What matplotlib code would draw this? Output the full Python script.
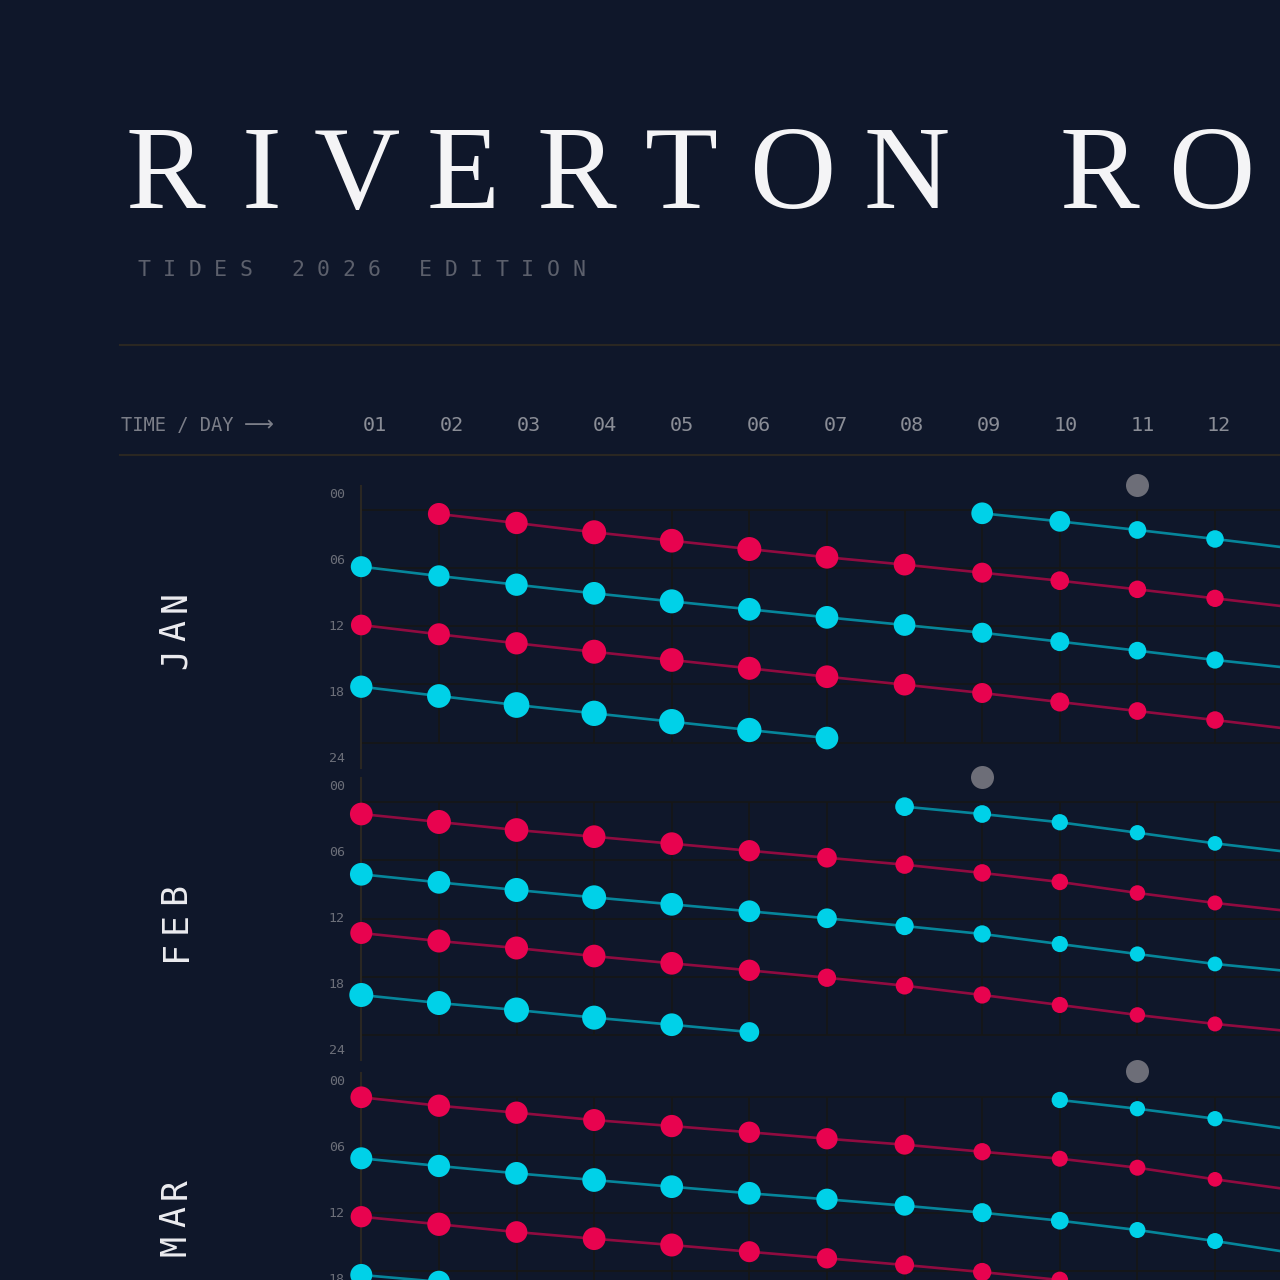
import numpy as np
import matplotlib
matplotlib.use("Agg")
import matplotlib.pyplot as plt
from matplotlib.lines import Line2D

nan = np.nan

# ---- data -------------------------------------------------------------
DAYS = np.arange(1, 14)                      # day 13 runs off the page
DAY_LABELS = [f"{d:02d}" for d in range(1, 13)]
MONTHS = ["JAN", "FEB", "MAR"]
HOUR_TICKS = [0, 6, 12, 18, 24]
HOUR_LABELS = ["00", "06", "12", "18", "24"]
EVENT_DAYS = [11, 9, 11]                     # grey dot above each month

# tide times in decimal hours, one list per tide track (days 01-13)
jan_high_1 = [nan, 0.41, 1.34, 2.30, 3.17, 4.03, 4.88, 5.64, 6.47, 7.30, 8.19, 9.12, 10.05]
jan_low_1 = [5.85, 6.81, 7.71, 8.60, 9.43, 10.25, 11.08, 11.87, 12.67, 13.59, 14.52, 15.48, 16.34]
jan_high_2 = [11.87, 12.83, 13.76, 14.63, 15.48, 16.34, 17.21, 18.03, 18.89, 19.82, 20.75, 21.68, 22.64]
jan_low_2 = [18.24, 19.20, 20.13, 20.99, 21.85, 22.71, 23.54, nan, nan, nan, nan, nan, nan]
jan_low_3 = [nan, nan, nan, nan, nan, nan, nan, nan, 0.34, 1.17, 2.06, 2.99, 3.97]

feb_high_1 = [1.21, 2.03, 2.86, 3.55, 4.27, 5.00, 5.72, 6.44, 7.29, 8.22, 9.36, 10.39, 11.27]
feb_low_1 = [7.43, 8.26, 9.05, 9.81, 10.53, 11.25, 11.97, 12.77, 13.59, 14.63, 15.66, 16.69, 17.47]
feb_high_2 = [13.49, 14.32, 15.04, 15.87, 16.62, 17.34, 18.11, 18.93, 19.89, 20.92, 21.95, 22.88, 23.66]
feb_low_2 = [19.89, 20.72, 21.44, 22.23, 22.96, 23.71, nan, nan, nan, nan, nan, nan, nan]
feb_low_3 = [nan, nan, nan, nan, nan, nan, nan, 0.45, 1.21, 2.06, 3.14, 4.24, 5.18]

mar_high_1 = [0.06, 0.93, 1.65, 2.41, 3.03, 3.67, 4.34, 4.95, 5.68, 6.40, 7.33, 8.53, 9.63]
mar_low_1 = [6.36, 7.15, 7.91, 8.60, 9.29, 9.97, 10.59, 11.25, 11.97, 12.80, 13.76, 14.90, 16.13]
mar_high_2 = [12.39, 13.17, 13.97, 14.66, 15.31, 16.00, 16.68, 17.37, 18.10, 18.92, nan, nan, nan]
mar_low_2 = [18.40, 19.10, nan, nan, nan, nan, nan, nan, nan, nan, nan, nan, nan]
mar_low_3 = [nan, nan, nan, nan, nan, nan, nan, nan, nan, 0.34, 1.24, 2.27, 3.41]

# tidal range (m) for each tide, drawn as dot size
jan_high_1_m = [nan, 2.20, 2.23, 2.40, 2.37, 2.40, 2.27, 2.17, 2.00, 1.87, 1.75, 1.73, 1.70]
jan_low_1_m = [2.10, 2.13, 2.23, 2.27, 2.40, 2.27, 2.27, 2.17, 2.00, 1.90, 1.77, 1.73, 1.70]
jan_high_2_m = [2.07, 2.20, 2.23, 2.40, 2.37, 2.30, 2.27, 2.17, 2.00, 1.90, 1.77, 1.75, 1.70]
jan_low_2_m = [2.23, 2.37, 2.57, 2.53, 2.53, 2.43, 2.27, nan, nan, nan, nan, nan, nan]
jan_low_3_m = [nan, nan, nan, nan, nan, nan, nan, nan, 2.17, 2.07, 1.77, 1.75, 1.70]

feb_high_1_m = [2.27, 2.40, 2.37, 2.27, 2.27, 2.13, 1.97, 1.83, 1.75, 1.65, 1.55, 1.50, 1.50]
feb_low_1_m = [2.27, 2.27, 2.40, 2.40, 2.27, 2.17, 1.97, 1.83, 1.72, 1.62, 1.52, 1.48, 1.48]
feb_high_2_m = [2.20, 2.30, 2.30, 2.27, 2.27, 2.13, 1.83, 1.77, 1.72, 1.62, 1.55, 1.50, 1.50]
feb_low_2_m = [2.40, 2.40, 2.50, 2.40, 2.27, 1.97, nan, nan, nan, nan, nan, nan, nan]
feb_low_3_m = [nan, nan, nan, nan, nan, nan, nan, 1.87, 1.77, 1.63, 1.53, 1.47, 1.47]

mar_high_1_m = [2.17, 2.23, 2.23, 2.20, 2.23, 2.13, 2.13, 2.00, 1.73, 1.60, 1.60, 1.47, 1.47]
mar_low_1_m = [2.20, 2.23, 2.27, 2.37, 2.27, 2.27, 2.13, 2.00, 1.90, 1.77, 1.60, 1.60, 1.60]
mar_high_2_m = [2.13, 2.33, 2.17, 2.27, 2.30, 2.10, 2.03, 1.90, 1.83, 1.67, nan, nan, nan]
mar_low_2_m = [2.20, 2.20, nan, nan, nan, nan, nan, nan, nan, nan, nan, nan, nan]
mar_low_3_m = [nan, nan, nan, nan, nan, nan, nan, nan, nan, 1.63, 1.53, 1.53, 1.53]

TRACKS = {
    "JAN": [(jan_high_1, jan_high_1_m, "high"), (jan_low_1, jan_low_1_m, "low"),
            (jan_high_2, jan_high_2_m, "high"), (jan_low_2, jan_low_2_m, "low"),
            (jan_low_3, jan_low_3_m, "low")],
    "FEB": [(feb_high_1, feb_high_1_m, "high"), (feb_low_1, feb_low_1_m, "low"),
            (feb_high_2, feb_high_2_m, "high"), (feb_low_2, feb_low_2_m, "low"),
            (feb_low_3, feb_low_3_m, "low")],
    "MAR": [(mar_high_1, mar_high_1_m, "high"), (mar_low_1, mar_low_1_m, "low"),
            (mar_high_2, mar_high_2_m, "high"), (mar_low_2, mar_low_2_m, "low"),
            (mar_low_3, mar_low_3_m, "low")],
}

# ---- style ------------------------------------------------------------
BG = "#0f172a"
HIGH = "#e8034f"
LOW = "#00d1e8"
EVENT = "#6d6e78"
GRID = "#161616"
RULE = "#2a2722"
MONO = ["DejaVu Sans Mono", "DejaVu Sans"]

W = H = 1280
DAY1_X = 361.3          # px of day 01
DAY_W = 77.61           # px per day
HEAD_X = 363            # px of the "01" column label
HEAD_W = 76.73          # px between column labels
PX_PER_H = 232.5 / 24   # px per hour inside a month panel
GRID_TOPS = [510, 802.3, 1096.7]
PX_PER_M = 5.0          # dot radius per metre of range


def fx(px):
    return px / W


def fy(py):
    return 1 - py / H


def dot_area(radius_px):
    return (2 * radius_px * 72 / 100) ** 2


fig = plt.figure(figsize=(12.8, 12.8), dpi=100, facecolor=BG)

# title, letter-spaced
title = "RIVERTON RO"
title_x = [165, 262, 357, 463, 576, 681, 792, 907, None, 1099, 1211]
for ch, x in zip(title, title_x):
    if x is not None:
        fig.text(fx(x), fy(208), ch, ha="center", va="baseline",
                 fontsize=86, family="Liberation Serif", color="#f4f4f6")

subtitle = "TIDES 2026 EDITION"
for i, ch in enumerate(subtitle):
    fig.text(fx(143.8 + i * 25.6), fy(276), ch, ha="center", va="baseline",
             fontsize=15.5, family=MONO, color="#5c606c")

for y in (345, 455):
    fig.add_artist(Line2D([fx(120), 1], [fy(y), fy(y)], transform=fig.transFigure,
                          color=RULE, lw=1.5))

fig.text(fx(121), fy(431), "TIME / DAY", ha="left", va="baseline",
         fontsize=13.5, family=MONO, color="#7b7e88")
fig.text(fx(244), fy(431), "\u27f6", ha="left", va="baseline",
         fontsize=15, family="DejaVu Sans", color="#7b7e88")

for i, lab in enumerate(DAY_LABELS):
    fig.text(fx(HEAD_X + i * HEAD_W), fy(431), lab, ha="left", va="baseline",
             fontsize=14.5, family=MONO, color="#8a8d96")

for month, gt, ev_day in zip(MONTHS, GRID_TOPS, EVENT_DAYS):
    top = gt - 24
    bottom = gt + 24 * PX_PER_H + 25
    left = DAY1_X - 0.5 * DAY_W
    ax = fig.add_axes([fx(left), fy(bottom), 13 * DAY_W / W, (bottom - top) / H])
    ax.set_facecolor("none")
    ax.set_xlim(0.5, 13.5)
    ax.set_ylim(24 + 25 / PX_PER_H, -24 / PX_PER_H)
    for side in ("top", "right", "bottom"):
        ax.spines[side].set_visible(False)
    ax.spines["left"].set_position(("data", 1))
    ax.spines["left"].set_color(RULE)
    ax.spines["left"].set_linewidth(1.5)
    ax.set_xticks([])
    label_pos = [(-17 + k * 66) / PX_PER_H for k in range(len(HOUR_LABELS))]
    ax.set_yticks(label_pos)
    ax.set_yticklabels(HOUR_LABELS, family=MONO, fontsize=9.5, color="#6c6f79")
    ax.tick_params(axis="y", length=0, pad=12)

    ax.hlines(HOUR_TICKS, 1, 13.5, color=GRID, lw=1.2, zorder=0)
    ax.vlines(DAYS[1:], HOUR_TICKS[0], HOUR_TICKS[-1], color=GRID, lw=1.2, zorder=0)

    for times, ranges, kind in TRACKS[month]:
        c = HIGH if kind == "high" else LOW
        t = np.array(times)
        r = np.array(ranges) * PX_PER_M
        ax.plot(DAYS, t, color=c, alpha=0.6, lw=1.9, zorder=2)
        ax.scatter(DAYS, t, s=dot_area(r), color=c, linewidths=0,
                   zorder=3, clip_on=False)

    ax.scatter([ev_day], [-25.5 / PX_PER_H], s=dot_area(11.5), color=EVENT,
               linewidths=0, zorder=3, clip_on=False)

    # month name, rotated and letter-spaced
    mid = gt + 12 * PX_PER_H + 4
    n = len(month)
    for i, ch in enumerate(month):
        fig.text(fx(175.5), fy(mid + ((n - 1) / 2 - i) * 28.5), ch, rotation=90,
                 ha="center", va="center", fontsize=25, family=MONO, color="#ececf0")

fig.savefig("out.png", dpi=100, facecolor=BG)
